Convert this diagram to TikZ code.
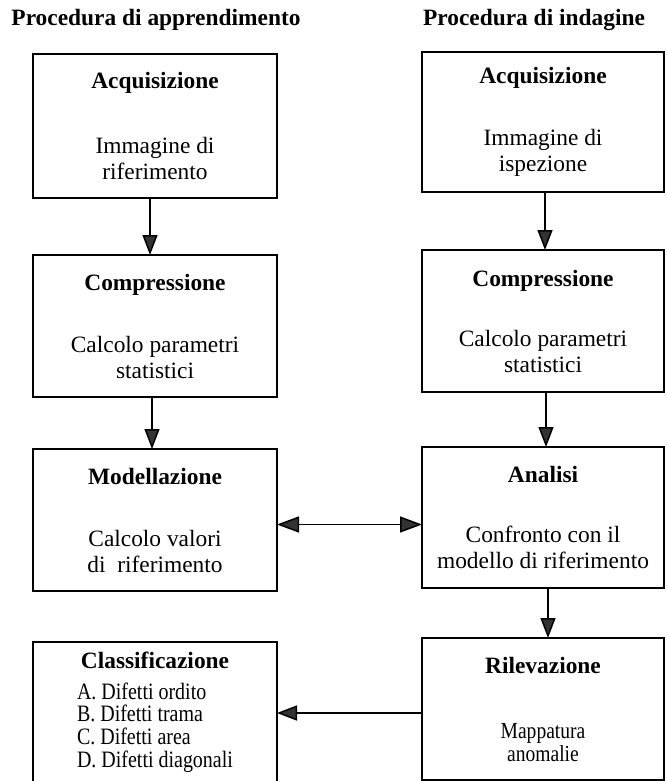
\documentclass[tikz,border=0pt]{standalone}
\usepackage{fontspec}
\setmainfont{Liberation Serif}
\newfontfamily\narrowserif[FakeStretch=0.85]{Liberation Serif}
\usetikzlibrary{arrows.meta,calc}
\begin{document}
\begin{tikzpicture}[x=1pt,y=-1pt,
  box/.style={draw,line width=1.6pt,inner sep=0pt,outer sep=0pt,align=center,
    font=\fontsize{23.4}{26}\selectfont},
  lbox/.style={box,minimum width=244pt},
  rbox/.style={box,minimum width=242pt},
  heading/.style={font=\fontsize{23.4}{26}\selectfont\bfseries,anchor=base,inner sep=0pt},
  flow/.style={line width=1.5pt,-{Triangle[length=20pt,width=15pt,fill=black!80]}},
  both/.style={line width=1.5pt,{Triangle[length=22pt,width=16pt,fill=black!80]}-{Triangle[length=22pt,width=16pt,fill=black!80]}}
]
\useasboundingbox (0,0) rectangle (666,781);

% headings
\node[heading] (h1) at (156,26) {Procedura di apprendimento};
\node[heading] (h2) at (534,26) {Procedura di indagine};

% left column
\node[lbox,minimum height=144pt] (L1) at (155,126)
  {\textbf{Acquisizione}\\[39pt]Immagine di\\riferimento};
\node[lbox,minimum height=142pt] (L2) at (155,326)
  {\textbf{Compressione}\\[36pt]Calcolo parametri\\statistici};
\node[lbox,minimum height=142pt] (L3) at (155,520)
  {\textbf{Modellazione}\\[36pt]Calcolo valori\\di\hspace{0.5em}riferimento};
\node[lbox,minimum height=141pt,font=\fontsize{23.5}{20}\narrowserif] (L4) at (155,712.5)
  {{\fontsize{23.4}{20}\rmfamily\bfseries Classificazione}\\[11pt]%
   \begin{tabular}[t]{@{}l@{}}A. Difetti ordito\\B. Difetti trama\\C. Difetti area\\D. Difetti diagonali\end{tabular}};

% right column
\node[rbox,minimum height=140pt] (R1) at (543,122)
  {\textbf{Acquisizione}\\[36pt]Immagine di\\ispezione};
\node[rbox,minimum height=142pt] (R2) at (543,321)
  {\textbf{Compressione}\\[34pt]Calcolo parametri\\statistici};
\node[rbox,minimum height=141pt] (R3) at (543,517.5)
  {\textbf{Analisi}\\[34pt]Confronto con il\\modello di riferimento};
\node[rbox,minimum height=142pt,font=\fontsize{23}{23}\narrowserif] (R4) at (543,709)
  {{\fontsize{23.4}{23}\rmfamily\bfseries Rilevazione}\\[42pt]Mappatura\\anomalie};

% connectors
\draw[flow] ([xshift=-5pt]L1.south) -- ([xshift=-5pt]L2.north);
\draw[flow] ([xshift=-3pt]L2.south) -- ([xshift=-3pt]L3.north);
\draw[flow] ([xshift=2pt]R1.south) -- ([xshift=2pt]R2.north);
\draw[flow] ([xshift=3pt]R2.south) -- ([xshift=3pt]R3.north);
\draw[flow] ([xshift=5pt]R3.south) -- ([xshift=5pt]R4.north);
\draw[both] ([yshift=-4.5pt]L3.east) -- ([yshift=-4.5pt]L3.east -| R3.west);
\draw[flow] ([yshift=-4pt]R4.west) -- ([yshift=-4pt]R4.west -| L4.east);
\end{tikzpicture}
\end{document}
